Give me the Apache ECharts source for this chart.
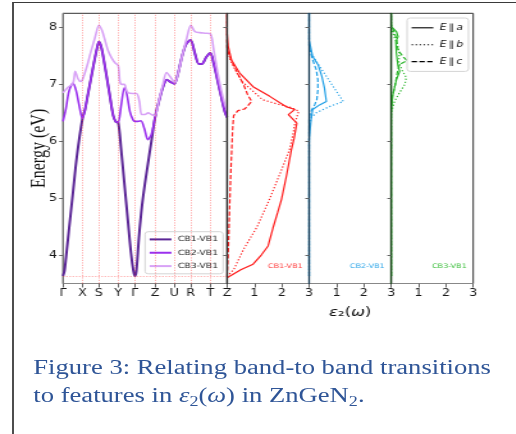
<!DOCTYPE html>
<html>
<head>
<meta charset="utf-8">
<script src="https://cdn.jsdelivr.net/npm/echarts@6.0.0/dist/echarts.min.js"></script>
<style>
  html, body { margin: 0; padding: 0; background: #fff; overflow: hidden; width: 516px; height: 434px; }
  #frame { position: absolute; left: 12px; top: 2px; width: 520px; height: 440px; box-sizing: border-box;
           border-left: 2px solid #4d4d4d; border-top: 1px solid #3a3a3a; }
  /* the figure is laid out in a narrow stage and stretched sideways */
  #stage { position: absolute; left: 0; top: 0; width: 403px; height: 434px; transform: scaleX(1.28); transform-origin: 0 0; }
  #chart { position: absolute; left: 0; top: 0; width: 403px; height: 434px; }
  #caption { position: absolute; left: 26px; top: 353px; font-family: "Liberation Serif", "Times New Roman", serif;
             font-size: 20.8px; line-height: 27.7px; color: #2f5597; white-space: nowrap; }
  #caption sub { font-size: 0.68em; line-height: 0; vertical-align: -0.28em; }
</style>
</head>
<body>
<div id="frame"></div>
<div id="stage">
  <div id="chart"></div>
  <div id="caption">Figure 3: Relating band-to band transitions<br>to features in <i>ε</i><sub>2</sub>(<i>ω</i>) in ZnGeN<sub>2</sub>.</div>
</div>
<script>
// k-path (distance along the path) and its high-symmetry points
const kTicks  = [0, 19.5, 36, 55.3, 72, 92.3, 111.5, 128, 147.5, 164.3];
const kLabels = ['Γ', 'X', 'S', 'Y', 'Γ', 'Z', 'U', 'R', 'T', 'Z'];
const energyTicks = [4, 5, 6, 7, 8];
const epsTicks = [0, 1, 2, 3];
const epsLabelTicks = [1, 2, 3];
const gapEnergy = 3.63;

// transition energies CB - VB1 along the path (eV)
const kCB1 = [0, 1.5, 3, 6, 10, 14, 19.5, 22, 25, 28, 31, 34, 36, 38, 40.3, 43.7, 47, 50.3, 53, 55.3,
              58, 61.5, 65, 68, 70.5, 72, 73.5, 76, 79, 82, 85, 88.5, 92.3, 96, 100, 104, 108, 111.5,
              115, 119, 123, 127.7, 132, 136, 139, 143.5, 147.5, 151, 155, 158.5, 162, 164.3];
const eCB1 = [3.63, 3.72, 3.95, 4.45, 5.10, 5.75, 6.40, 6.55, 6.83, 7.10, 7.38, 7.63, 7.75, 7.68, 7.49, 7.14, 6.79, 6.45, 6.34, 6.33,
              5.90, 5.25, 4.60, 4.05, 3.72, 3.63, 3.72, 4.30, 4.85, 5.25, 5.60, 6.00, 6.43, 6.70, 6.95, 7.08, 7.04, 7.01,
              7.18, 7.48, 7.70, 7.78, 7.55, 7.36, 7.36, 7.48, 7.55, 7.36, 7.05, 6.78, 6.52, 6.42];

const kCB2 = [0, 3, 6, 10, 13, 16, 19.5, 22, 25, 28, 31, 34, 36, 38, 40.3, 43.7, 47, 50.3, 53, 55.3,
              58, 61.5, 64, 67, 70, 72, 75, 78, 81.5, 85, 88.5, 92.3, 96, 100, 104, 108, 111.5,
              115, 119, 123, 127.7, 132, 136, 139, 143.5, 147.5, 151, 155, 158.5, 162, 164.3];
const eCB2 = [6.35, 6.58, 6.88, 7.02, 6.90, 6.65, 6.40, 6.55, 6.83, 7.10, 7.38, 7.63, 7.75, 7.68, 7.49, 7.14, 6.79, 6.45, 6.34, 6.33,
              6.60, 6.94, 6.82, 6.52, 6.38, 6.35, 6.35, 6.36, 6.22, 6.03, 6.12, 6.43, 6.70, 6.95, 7.08, 7.04, 7.01,
              7.18, 7.48, 7.70, 7.78, 7.55, 7.36, 7.36, 7.48, 7.55, 7.36, 7.05, 6.78, 6.52, 6.42];

const kCB3 = [0, 5, 10, 12.3, 15, 17.7, 19.5, 24, 28, 32, 36, 39, 42, 45, 48.5, 52, 55.3, 57, 59, 61.5,
              63.5, 65.5, 70, 73.7, 76.5, 78.7, 82, 85.3, 88.5, 92.3, 96, 100, 103.7, 108, 112, 116, 120, 124,
              128, 132, 137, 142, 147.5, 151, 155, 158.5, 162, 164.3];
const eCB3 = [6.85, 6.95, 7.02, 7.23, 7.10, 7.05, 7.08, 7.32, 7.58, 7.82, 8.04, 7.95, 7.78, 7.60, 7.47, 7.38, 7.33, 7.05, 7.00, 7.00,
              6.90, 6.85, 6.84, 6.84, 6.70, 6.47, 6.47, 6.50, 6.47, 6.45, 6.72, 7.00, 7.21, 7.12, 7.03, 7.25, 7.55, 7.82,
              8.04, 7.93, 7.91, 7.90, 7.89, 7.60, 7.20, 6.90, 6.65, 6.55];

// imaginary dielectric function per transition, [eps2, energy] for E||a, E||b, E||c
const cb1Ea = [[0,3.6],[0.5,3.74],[0.95,3.84],[1.25,4.0],[1.5,4.16],[1.68,4.48],[1.85,4.75],[1.99,4.98],[2.17,5.39],[2.35,5.85],
               [2.45,6.05],[2.55,6.32],[2.24,6.47],[2.48,6.56],[2.15,6.61],[1.56,6.79],[0.95,6.96],[0.46,7.2],[0.16,7.43],
               [0.04,7.67],[0,7.9],[0,8.25]];
const cb1Eb = [[0,3.62],[0.25,3.75],[0.6,4.1],[1.1,4.5],[1.55,4.98],[1.95,5.45],[2.28,5.85],[2.4,6.1],[2.48,6.32],[2.62,6.53],
               [2.3,6.6],[1.8,6.66],[1.3,6.73],[0.95,6.88],[0.55,7.05],[0.3,7.25],[0.12,7.42],[0.03,7.6],[0,7.75],[0,8.25]];
const cb1Ec = [[0,3.62],[0.04,4.0],[0.09,4.8],[0.13,5.4],[0.17,5.85],[0.2,6.2],[0.24,6.45],[0.4,6.54],[0.65,6.57],[0.9,6.7],
               [0.75,6.82],[0.6,7.0],[0.4,7.18],[0.2,7.38],[0.05,7.55],[0,7.65],[0,8.25]];

const cb2Ea = [[0,3.63],[0,6.03],[0.07,6.38],[0.13,6.56],[0.38,6.64],[0.63,6.7],[0.56,6.94],[0.46,7.15],[0.33,7.34],[0.13,7.49],
               [0,7.78],[0,8.25]];
const cb2Eb = [[0,3.63],[0,6.2],[0.07,6.41],[0.26,6.5],[0.74,6.61],[1.25,6.7],[0.8,7.02],[0.38,7.32],[0.07,7.55],[0,7.7],[0,8.25]];
const cb2Ec = [[0,3.63],[0,6.4],[0.03,6.47],[0.1,6.56],[0.2,6.64],[0.28,6.73],[0.32,6.9],[0.32,7.08],[0.26,7.26],[0.13,7.43],
               [0,7.66],[0,8.25]];

const cb3Ea = [[0,3.63],[0,6.5],[0.05,6.79],[0.13,6.96],[0.19,7.08],[0.31,7.23],[0.25,7.32],[0.19,7.55],[0.17,7.75],[0.25,7.84],
               [0.19,7.93],[0,8.02],[0,8.25]];
const cb3Eb = [[0,3.63],[0,6.5],[0.12,6.7],[0.3,6.85],[0.5,7.0],[0.55,7.12],[0.4,7.25],[0.28,7.38],[0.3,7.55],[0.22,7.7],
               [0.1,7.85],[0,8.0],[0,8.25]];
const cb3Ec = [[0,3.63],[0,6.55],[0.05,6.8],[0.15,7.0],[0.22,7.2],[0.3,7.35],[0.58,7.42],[0.45,7.48],[0.25,7.6],[0.2,7.8],
               [0.1,7.93],[0,8.05],[0,8.25]];

// ---- layout (stage coordinates) ----
const gTop = 13.3, gH = 270.2, gL = 49.2, wBand = 128.2, wEps = 64.1;
const eMin = 3.5, eMax = 8.25;
const FONT = 'DejaVu Sans';

const zip = (xs, ys) => xs.map((x, i) => [x, ys[i]]);

const grids = [
  { left: gL, width: wBand },
  { left: gL + wBand, width: wEps },
  { left: gL + wBand + wEps, width: wEps },
  { left: gL + wBand + 2 * wEps, width: wEps }
].map(g => Object.assign(g, { top: gTop, height: gH, show: true, borderColor: '#333', borderWidth: 1,
                              containLabel: false, outerBoundsMode: 'none' }));

const tickLabelStyle = { color: '#1a1a1a', fontFamily: FONT, fontSize: 10 };

const xAxes = [{
  gridIndex: 0, type: 'value', min: 0, max: kTicks[kTicks.length - 1],
  axisLine: { lineStyle: { color: '#888' } },
  axisTick: { customValues: kTicks, length: 4, lineStyle: { color: '#666' } },
  axisLabel: Object.assign({ customValues: kTicks, margin: 5,
    formatter: v => { const i = kTicks.indexOf(v); return i >= 0 ? kLabels[i] : ''; } }, tickLabelStyle),
  splitLine: { show: false }
}];
for (let p = 1; p <= 3; p++) {
  xAxes.push({
    gridIndex: p, type: 'value', min: 0, max: 3,
    axisLine: { lineStyle: { color: '#888' } },
    axisTick: { customValues: epsTicks, length: 4, lineStyle: { color: '#666' } },
    axisLabel: Object.assign({ customValues: epsLabelTicks, margin: 5 }, tickLabelStyle),
    splitLine: { show: false }
  });
}

// spines of the eps panels sit on top of the curves
const spineColors = ['#777', '#333', '#1d3f58', '#1c461c'];
const yAxes = spineColors.map((c, p) => ({
  gridIndex: p, type: 'value', min: eMin, max: eMax, z: p === 0 ? 0 : 6,
  axisLine: { show: true, lineStyle: { color: c, width: p === 0 ? 1 : 1.35 } },
  axisTick: { customValues: energyTicks, length: 3, lineStyle: { color: '#666' } },
  axisLabel: p === 0 ? Object.assign({ customValues: energyTicks, margin: 4.5 }, tickLabelStyle) : { show: false },
  splitLine: { show: false }
}));

const guide = { color: 'rgba(255,40,40,0.42)', type: [1.2, 1.3], width: 0.9 };

const series = [{
  // high-symmetry guides and the gap level
  type: 'line', xAxisIndex: 0, yAxisIndex: 0, data: [], z: 1, silent: true,
  markLine: {
    silent: true, symbol: 'none', label: { show: false }, lineStyle: guide, animation: false,
    data: kTicks.slice(1, -1).map(k => ({ xAxis: k })).concat([{ yAxis: gapEnergy }])
  }
}];

const bandSeries = [
  { name: 'CB1-VB1', k: kCB1, e: eCB1, color: '#5b2696', width: 2 },
  { name: 'CB2-VB1', k: kCB2, e: eCB2, color: '#9b30ee', width: 1.6 },
  { name: 'CB3-VB1', k: kCB3, e: eCB3, color: '#d8a2f6', width: 1.6 }
];
bandSeries.forEach((b, i) => series.push({
  name: b.name, type: 'line', xAxisIndex: 0, yAxisIndex: 0, data: zip(b.k, b.e),
  smooth: 0.3, symbol: 'none', z: 2 + i, silent: true,
  lineStyle: { color: b.color, width: b.width }, itemStyle: { color: b.color },
  emphasis: { disabled: true }
}));

const polType = { a: 'solid', b: [1.2, 1.9], c: [4.2, 1.9] };
const epsPanels = [
  { color: '#ff1a1a', a: cb1Ea, b: cb1Eb, c: cb1Ec },
  { color: '#22a0e6', a: cb2Ea, b: cb2Eb, c: cb2Ec },
  { color: '#2cb52c', a: cb3Ea, b: cb3Eb, c: cb3Ec }
];
epsPanels.forEach((pn, i) => ['a', 'b', 'c'].forEach(pol => series.push({
  name: 'E∥' + pol, type: 'line', xAxisIndex: i + 1, yAxisIndex: i + 1, data: pn[pol],
  symbol: 'none', silent: true, z: 3, emphasis: { disabled: true },
  lineStyle: { color: pn.color, width: 1.2, type: polType[pol] }, itemStyle: { color: pn.color }
})));

const panelTags = [
  { text: 'CB1-VB1', color: '#ff3b3b' },
  { text: 'CB2-VB1', color: '#2ea6e8' },
  { text: 'CB3-VB1', color: '#3cbf3c' }
];

const graphic = [
  { type: 'text', x: 30.5, y: gTop + gH / 2, rotation: Math.PI / 2, silent: true,
    style: { text: 'Energy (eV)', fontFamily: 'Liberation Serif', fontSize: 16, fill: '#111',
             align: 'center', verticalAlign: 'middle' } },
  { type: 'text', x: gL + wBand + 1.5 * wEps, y: 313, silent: true,
    style: { text: '{i|ε}₂({i|ω})', fontFamily: FONT, fontSize: 13, fill: '#111', align: 'center', verticalAlign: 'middle',
             rich: { i: { fontFamily: FONT, fontSize: 13, fontStyle: 'italic', fill: '#111' } } } }
].concat(panelTags.map((t, i) => ({
  type: 'text', x: gL + wBand + (i + 1) * wEps - 5, y: 266.7, silent: true,
  style: { text: t.text, fontFamily: FONT, fontSize: 6.3, fill: t.color, align: 'right', verticalAlign: 'middle' }
})));

// legend keys are plain line samples (no marker)
const noMarker = { color: 'rgba(0,0,0,0)', opacity: 0, borderWidth: 0 };
const legendBox = { borderColor: '#d4d4d4', borderWidth: 1, borderRadius: 2.5, backgroundColor: 'rgba(255,255,255,0.85)',
                    orient: 'vertical', selectedMode: false, itemWidth: 17, itemHeight: 6, itemStyle: noMarker };

const option = {
  animation: false,
  grid: grids,
  xAxis: xAxes,
  yAxis: yAxes,
  series: series,
  graphic: graphic,
  legend: [
    Object.assign({}, legendBox, {
      left: 113.3, top: 231.7, padding: [4.2, 4, 4.2, 2.6], itemGap: 6.35,
      data: bandSeries.map(b => ({ name: b.name, itemStyle: noMarker })),
      textStyle: { fontFamily: FONT, fontSize: 7.25, color: '#1a1a1a' }
    }),
    Object.assign({}, legendBox, {
      left: 318, top: 18, padding: [5.3, 4, 5.3, 3], itemGap: 7.9,
      data: ['a', 'b', 'c'].map(pol => ({ name: 'E∥' + pol, itemStyle: noMarker,
        lineStyle: { color: '#000', width: 1.1, type: polType[pol] } })),
      formatter: n => '{i|E}\u2009∥\u2009{i|' + n.slice(-1) + '}',
      textStyle: { fontFamily: FONT, fontSize: 8.5, color: '#111',
                   rich: { i: { fontFamily: FONT, fontSize: 8.5, fontStyle: 'italic', color: '#111' } } }
    })
  ]
};

const chart = echarts.init(document.getElementById('chart'), null, { renderer: 'canvas' });
chart.setOption(option);
</script>
</body>
</html>
